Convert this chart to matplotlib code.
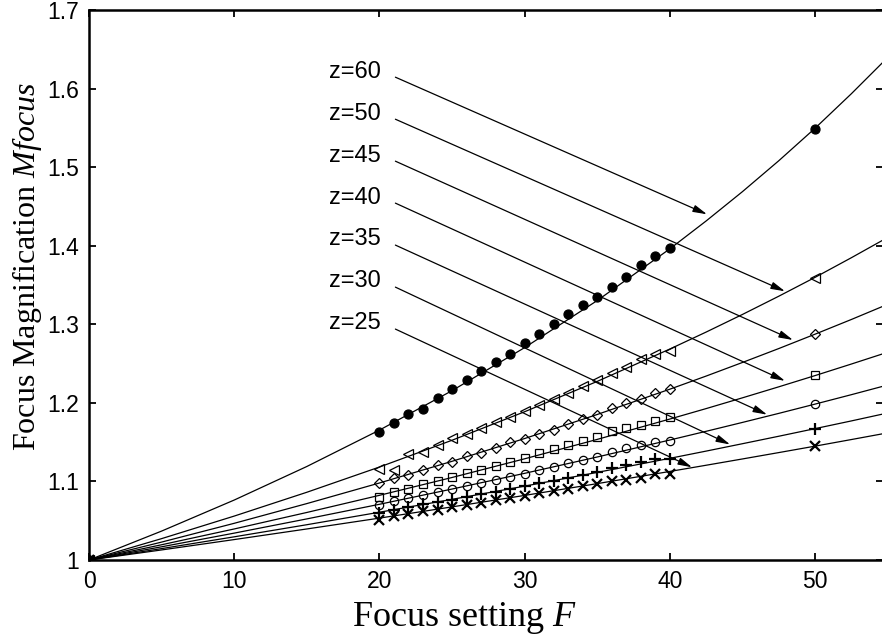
import matplotlib
matplotlib.use("Agg")
import matplotlib.pyplot as plt

# depth values z and the curve readings (line) at F = 0, 5, ..., 55
z_values = [60, 50, 45, 40, 35, 30, 25]
F_line = [0, 5, 10, 15, 20, 25, 30, 35, 40, 42.5, 45, 47.5, 50, 52.5, 55]
line_z60 = [1.0, 1.0368, 1.0763, 1.1190, 1.1653, 1.2155, 1.2703, 1.3302, 1.3960, 1.4315, 1.4688, 1.5081, 1.5495, 1.5934, 1.6395]
line_z50 = [1.0, 1.0272, 1.0559, 1.0862, 1.1183, 1.1524, 1.1887, 1.2273, 1.2685, 1.2901, 1.3125, 1.3357, 1.3597, 1.3847, 1.4105]
line_z45 = [1.0, 1.0228, 1.0467, 1.0718, 1.0980, 1.1256, 1.1546, 1.1852, 1.2174, 1.2341, 1.2514, 1.2691, 1.2874, 1.3061, 1.3254]
line_z40 = [1.0, 1.0194, 1.0395, 1.0605, 1.0823, 1.1050, 1.1288, 1.1535, 1.1794, 1.1927, 1.2064, 1.2204, 1.2347, 1.2494, 1.2644]
line_z35 = [1.0, 1.0168, 1.0342, 1.0523, 1.0709, 1.0903, 1.1103, 1.1311, 1.1527, 1.1638, 1.1751, 1.1866, 1.1984, 1.2104, 1.2227]
line_z30 = [1.0, 1.0145, 1.0295, 1.0449, 1.0608, 1.0772, 1.0940, 1.1115, 1.1294, 1.1386, 1.1480, 1.1575, 1.1672, 1.1770, 1.1871]
line_z25 = [1.0, 1.0128, 1.0260, 1.0395, 1.0533, 1.0676, 1.0822, 1.0972, 1.1127, 1.1206, 1.1286, 1.1367, 1.1449, 1.1533, 1.1618]

# measured points at F = 0, 20..40 and 50
F_meas = [0] + list(range(20, 41)) + [50]
meas_z60 = [1.0, 1.163, 1.174, 1.186, 1.192, 1.2065, 1.217, 1.229, 1.240, 1.2515, 1.262, 1.276,
            1.288, 1.300, 1.313, 1.324, 1.335, 1.347, 1.360, 1.375, 1.387, 1.397, 1.548]
meas_z50 = [1.0, 1.116, 1.115, 1.135, 1.137, 1.146, 1.155, 1.161, 1.168, 1.176, 1.182, 1.190,
            1.197, 1.205, 1.213, 1.221, 1.229, 1.238, 1.246, 1.256, 1.262, 1.266, 1.359]
meas_z45 = [1.0, 1.098, 1.104, 1.108, 1.115, 1.121, 1.125, 1.132, 1.136, 1.143, 1.150, 1.154,
            1.161, 1.166, 1.173, 1.180, 1.185, 1.193, 1.200, 1.205, 1.212, 1.218, 1.2875]
meas_z40 = [1.0, 1.080, 1.087, 1.091, 1.097, 1.100, 1.106, 1.111, 1.114, 1.120, 1.125, 1.130,
            1.136, 1.141, 1.146, 1.151, 1.157, 1.164, 1.168, 1.172, 1.177, 1.1815, 1.235]
meas_z35 = [1.0, 1.070, 1.075, 1.079, 1.083, 1.086, 1.090, 1.094, 1.098, 1.102, 1.106, 1.110,
            1.115, 1.119, 1.123, 1.127, 1.131, 1.138, 1.142, 1.147, 1.150, 1.152, 1.198]
meas_z30 = [1.0, 1.060, 1.064, 1.067, 1.071, 1.074, 1.077, 1.080, 1.084, 1.087, 1.090, 1.094,
            1.098, 1.101, 1.105, 1.108, 1.112, 1.117, 1.121, 1.125, 1.128, 1.129, 1.167]
meas_z25 = [1.0, 1.051, 1.056, 1.059, 1.062, 1.064, 1.067, 1.070, 1.073, 1.076, 1.079, 1.082,
            1.085, 1.088, 1.091, 1.094, 1.097, 1.100, 1.102, 1.104, 1.109, 1.109, 1.145]

# annotation: label anchors, arrow starts and arrow tips
label_y = [1.621, 1.568, 1.514, 1.461, 1.408, 1.355, 1.302]
arrow_start_y = [1.6145, 1.561, 1.5076, 1.4542, 1.4008, 1.3473, 1.2939]
arrow_tip_F = [42.56, 47.93, 48.48, 47.93, 46.70, 44.15, 41.53]
arrow_tip_M = [1.440, 1.342, 1.280, 1.228, 1.185, 1.147, 1.118]

x_ticks = [0, 10, 20, 30, 40, 50]
y_ticks = [1.0, 1.1, 1.2, 1.3, 1.4, 1.5, 1.6, 1.7]
y_ticklabels = ["1", "1.1", "1.2", "1.3", "1.4", "1.5", "1.6", "1.7"]

lines = [line_z60, line_z50, line_z45, line_z40, line_z35, line_z30, line_z25]
meas = [meas_z60, meas_z50, meas_z45, meas_z40, meas_z35, meas_z30, meas_z25]
styles = [
    dict(marker="o", ms=6.5, mfc="k"),
    dict(marker="<", ms=6.5, mfc="none"),
    dict(marker="D", ms=5.5, mfc="none"),
    dict(marker="s", ms=6.0, mfc="none"),
    dict(marker="o", ms=6.0, mfc="none"),
    dict(marker="+", ms=8.0, mfc="none", mew=1.6),
    dict(marker="x", ms=6.5, mfc="none", mew=1.6),
]

plt.rcParams["mathtext.fontset"] = "custom"
plt.rcParams["mathtext.rm"] = "Liberation Serif"
plt.rcParams["mathtext.it"] = "Liberation Serif:italic"

fig = plt.figure(figsize=(8.82, 6.38), dpi=100)
ax = fig.add_axes([89 / 882, 78 / 638, 794 / 882, 550 / 638])

for ln, mv, st in zip(lines, meas, styles):
    ax.plot(F_line, ln, color="k", lw=0.9)
    kw = dict(mew=0.9)
    kw.update(st)
    ax.plot(F_meas, mv, linestyle="none", color="k", mec="k", **kw)

for z, ly, sy, tf, tm in zip(z_values, label_y, arrow_start_y, arrow_tip_F, arrow_tip_M):
    ax.text(16.5, ly, f"z={z}", ha="left", va="center", fontsize=17,
            family="Liberation Sans")
    ax.annotate("", xy=(tf, tm), xytext=(21.1, sy),
                arrowprops=dict(arrowstyle="-|>,head_length=0.7,head_width=0.18",
                                color="k", lw=0.9, shrinkA=0, shrinkB=0,
                                mutation_scale=12))

ax.set_xlim(0, 54.68)
ax.set_ylim(1.0, 1.7)
ax.set_xticks(x_ticks)
ax.set_yticks(y_ticks)
ax.set_yticklabels(y_ticklabels)
ax.tick_params(direction="in", length=5, width=1.3, top=True, right=True,
               labelsize=16.5, pad=7)
for lab in ax.get_xticklabels() + ax.get_yticklabels():
    lab.set_family("Liberation Sans")
for sp in ax.spines.values():
    sp.set_linewidth(1.8)

ax.set_xlabel(r"Focus setting $F$", fontsize=26, family="Liberation Serif", labelpad=2)
ax.xaxis.set_label_coords(0.4735, -0.072)
ax.set_ylabel(r"Focus Magnification $Mfocus$", fontsize=23, family="Liberation Serif",
              labelpad=4)
ax.yaxis.set_label_coords(-0.057, 0.533)

fig.savefig("out.png", dpi=100)
